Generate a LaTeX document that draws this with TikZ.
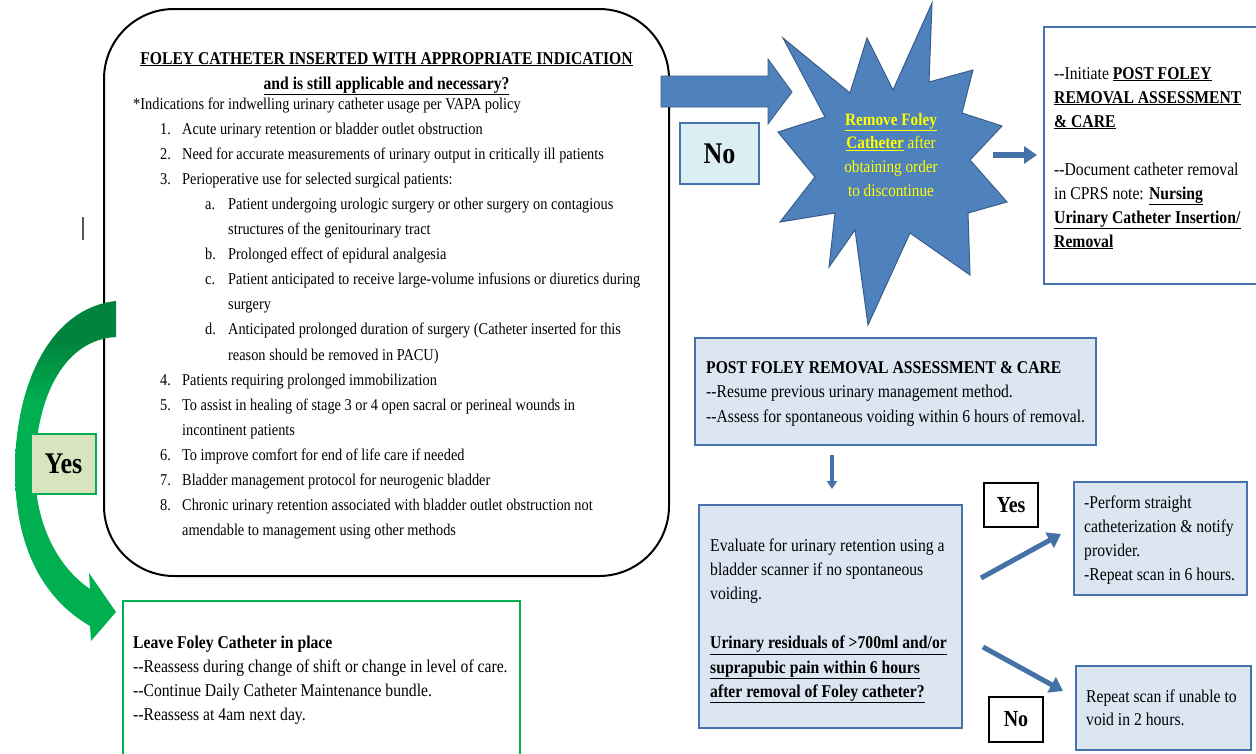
\documentclass[tikz,border=0pt]{standalone}
\usepackage{fontspec}
\setmainfont{Liberation Serif}
\usetikzlibrary{arrows.meta}
\definecolor{bluefill}{HTML}{4F81BD}
\definecolor{blueedge}{HTML}{385D8A}
\definecolor{boxfill}{HTML}{DCE6F2}
\definecolor{boxedge}{HTML}{4672AE}
\definecolor{nofill}{HTML}{DBEEF4}
\definecolor{ltgreen}{HTML}{00B050}
\definecolor{dkgreen}{HTML}{00843D}
\definecolor{yesfill}{HTML}{D7E4BD}
\definecolor{staryellow}{HTML}{FFFF00}
\definecolor{arrowblue}{HTML}{4472A8}
\pgfdeclareverticalshading{greenarrow}{100bp}{color(0bp)=(ltgreen); color(60bp)=(ltgreen); color(69bp)=(dkgreen); color(100bp)=(dkgreen)}
\newcommand\lstA[2]{\hspace*{31pt}\makebox[25.3pt][l]{#1}#2}
\newcommand\lstB[2]{\hspace*{82.8pt}\makebox[26.4pt][l]{#1}#2}
\newcommand\dd{-{}-}
% squeezed text block: width, size, skip, alignment+content
\newcommand\tb[4]{\scalebox{0.87}[1]{\parbox[t]{#1}{\fontsize{#2}{#3}\selectfont #4}}}
\newcommand\sq[1]{\scalebox{0.87}[1]{#1}}
\begin{document}
\begin{tikzpicture}[x=1pt,y=-1pt,
  every node/.style={inner sep=0pt},
  txt/.style={anchor=base west},
  bluebox/.style={draw=boxedge, fill=boxfill, line width=2pt},
  plainbox/.style={draw=black, fill=white, line width=1.3pt},
  sarrow/.style={draw=arrowblue, line width=5pt, -{Triangle[length=13pt,width=17pt]}},
]
\useasboundingbox (0,0) rectangle (1256,753);
\begin{scope}
\clip (0,0) rectangle (1256,753);

% main rounded box
\node[draw=black, line width=2pt, rounded corners=70pt, minimum width=565pt, minimum height=567pt] (main) at (386.5,292.5) {};
\node[anchor=base] (title) at (386.5,64)
  {\tb{640pt}{18}{25}{\centering\bfseries \underline{FOLEY CATHETER INSERTED WITH APPROPRIATE INDICATION}\\ \underline{and is still applicable and necessary?}}};
\node[txt] (list) at (133,109) {\tb{700pt}{16.5}{25.1}{\raggedright
*Indications for indwelling urinary catheter usage per VAPA policy\\
\lstA{1.}{Acute urinary retention or bladder outlet obstruction}\\
\lstA{2.}{Need for accurate measurements of urinary output in critically ill patients}\\
\lstA{3.}{Perioperative use for selected surgical patients:}\\
\lstB{a.}{Patient undergoing urologic surgery or other surgery on contagious}\\
\hspace*{109.2pt}structures of the genitourinary tract\\
\lstB{b.}{Prolonged effect of epidural analgesia}\\
\lstB{c.}{Patient anticipated to receive large-volume infusions or diuretics during}\\
\hspace*{109.2pt}surgery\\
\lstB{d.}{Anticipated prolonged duration of surgery (Catheter inserted for this}\\
\hspace*{109.2pt}reason should be removed in PACU)\\
\lstA{4.}{Patients requiring prolonged immobilization}\\
\lstA{5.}{To assist in healing of stage 3 or 4 open sacral or perineal wounds in}\\
\hspace*{56.3pt}incontinent patients\\
\lstA{6.}{To improve comfort for end of life care if needed}\\
\lstA{7.}{Bladder management protocol for neurogenic bladder}\\
\lstA{8.}{Chronic urinary retention associated with bladder outlet obstruction not}\\
\hspace*{56.3pt}amendable to management using other methods}};

% stray cursor mark
\draw[draw=black!65, line width=1.5pt] (83,217) -- (83,240);

% blue block arrow (No)
\filldraw[fill=bluefill, draw=blueedge, line width=0.8pt] (661,76) -- (768,76) -- (768,59) -- (792,92) -- (768,124) -- (768,107) -- (661,107) -- cycle;
\node[draw=boxedge, fill=nofill, line width=2pt, minimum width=79pt, minimum height=61pt] (nobox) at (719.5,153.5) {};
\node[font=\bfseries\fontsize{30}{30}\selectfont] (nolab) at (nobox) {\sq{No}};

% star
\filldraw[fill=bluefill, draw=blueedge, line width=1pt]
 (932,3) -- (929,82) -- (973,70) -- (962,113) -- (1002,126) -- (970,160) -- (1007,202) -- (968,213)
 -- (970,275) -- (910,233) -- (868,325) -- (855,230) -- (829,267) -- (835,213) -- (780,222)
 -- (815,177) -- (778,132) -- (825,117) -- (783,38) -- (850,93) -- (867,38) -- (893,90) -- cycle;
\node[anchor=base, text=staryellow] (startext) at (891,125)
  {\tb{170pt}{17.5}{23.8}{\centering\underline{\textbf{Remove Foley}}\\ \underline{\textbf{Catheter}} after\\ obtaining order\\ to discontinue}};

% right top box
\node[draw=boxedge, fill=white, line width=2pt, minimum width=218pt, minimum height=257pt] (rbox) at (1153,155.5) {};
\node[txt] (rtext) at (1054,79) {\tb{300pt}{18}{24}{\raggedright
\dd Initiate \underline{\textbf{POST FOLEY}}\\
\underline{\textbf{REMOVAL ASSESSMENT}}\\
\underline{\textbf{\& CARE}}\\[24pt]
\dd Document catheter removal\\
in CPRS note: \underline{\textbf{Nursing}}\\
\underline{\textbf{Urinary Catheter Insertion/}}\\
\underline{\textbf{Removal}}}};
\coordinate (s1) at (993,155);
\coordinate (s2) at (1037,155);
\draw[sarrow, line width=6pt] (s1) -- (s2);

% green Yes arrow
\path[shading=greenarrow] (116,301) .. controls (50,308) and (15,385) .. (15,470)
  .. controls (15,550) and (45,600) .. (90,626) -- (91,641) -- (116,612) -- (89,573) -- (90,589)
  .. controls (55,565) and (35,520) .. (35,470) .. controls (35,405) and (60,340) .. (116,337) -- cycle;
\node[draw=ltgreen, fill=yesfill, line width=2pt, minimum width=65pt, minimum height=60pt] (yesbox) at (63.5,464) {};
\node[font=\bfseries\fontsize{30}{30}\selectfont] (yeslab) at (yesbox) {\sq{Yes}};

% leave box
\node[draw=ltgreen, fill=white, line width=2pt, minimum width=397pt, minimum height=164pt] (leave) at (321.5,683) {};
\node[txt] (leavetext) at (133,648) {\tb{500pt}{18}{24}{\raggedright
\textbf{Leave Foley Catheter in place}\\
\dd Reassess during change of shift or change in level of care.\\
\dd Continue Daily Catheter Maintenance bundle.\\
\dd Reassess at 4am next day.}};

% post removal box
\node[bluebox, minimum width=401pt, minimum height=107pt] (post) at (895.5,391.5) {};
\node[txt] (posttext) at (706,373) {\tb{500pt}{18}{24.5}{\raggedright
\textbf{POST FOLEY REMOVAL ASSESSMENT \& CARE}\\
\dd Resume previous urinary management method.\\
\dd Assess for spontaneous voiding within 6 hours of removal.}};

% evaluate box
\coordinate (d1) at (832,455);
\coordinate (d2) at (832,489);
\draw[draw=arrowblue, line width=4pt, -{Triangle[length=8pt,width=10pt]}] (d1) -- (d2);
\node[bluebox, minimum width=263pt, minimum height=223pt] (eval) at (830.5,616.5) {};
\node[txt] (evaltext) at (710,551) {\tb{340pt}{18}{24.4}{\raggedright
Evaluate for urinary retention using a\\
bladder scanner if no spontaneous\\
voiding.\\[24.4pt]
\underline{\textbf{Urinary residuals of >700ml and/or}}\\
\underline{\textbf{suprapubic pain within 6 hours}}\\
\underline{\textbf{after removal of Foley catheter?}}}};

% yes / no branches
\node[plainbox, minimum width=54pt, minimum height=44pt] (yes2) at (1011,505) {};
\node[font=\bfseries\fontsize{23}{23}\selectfont] (yes2lab) at (yes2) {\sq{Yes}};
\node[plainbox, minimum width=54pt, minimum height=45pt] (no2) at (1016,719.5) {};
\node[font=\bfseries\fontsize{23}{23}\selectfont] (no2lab) at (no2) {\sq{No}};

\node[bluebox, minimum width=173pt, minimum height=113pt] (perform) at (1160.5,538.5) {};
\node[txt] (performtext) at (1084,508) {\tb{220pt}{18}{24}{\raggedright
-Perform straight\\
catheterization \& notify\\
provider.\\
-Repeat scan in 6 hours.}};
\node[bluebox, minimum width=175pt, minimum height=84pt] (repeat) at (1163.5,708) {};
\node[txt] (repeattext) at (1086,702) {\tb{220pt}{18}{23.5}{\raggedright
Repeat scan if unable to\\
void in 2 hours.}};

\coordinate (y1) at (981,578);
\coordinate (y2) at (1061,534);
\draw[sarrow] (y1) -- (y2);
\coordinate (n1) at (983,647);
\coordinate (n2) at (1063,691);
\draw[sarrow] (n1) -- (n2);
\end{scope}
\end{tikzpicture}
\end{document}
